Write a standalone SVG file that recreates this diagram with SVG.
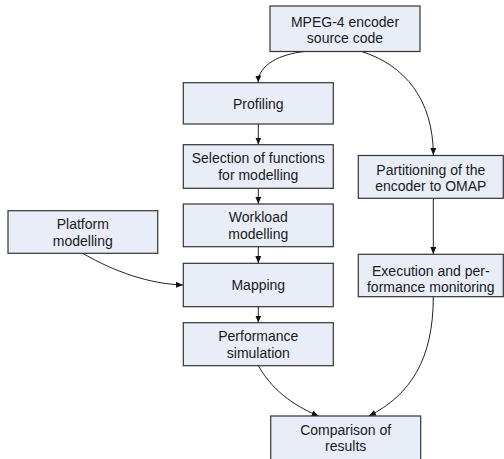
<svg xmlns="http://www.w3.org/2000/svg" width="504" height="459" viewBox="0 0 504 459">
<defs>
<marker id="ah" markerWidth="7" markerHeight="6" refX="7" refY="3" orient="auto" markerUnits="userSpaceOnUse">
<path d="M0,0 L7,3 L0,6 Z" fill="#111"/>
</marker>
<style>
.box{fill:#e8edf7;stroke:#333;stroke-width:1.2}
.t{font-family:"Liberation Sans",Arial,sans-serif;font-size:14px;fill:#1a1a1a;text-anchor:middle}
.c{fill:none;stroke:#222;stroke-width:1;marker-end:url(#ah)}
</style>
</defs>
<rect width="504" height="459" fill="#fff"/>
<g id="connectors">
<path class="c" d="M305,51.5 C280,54 258,65 258.3,82.5"/>
<path class="c" d="M361.5,51.5 C405,65 433.3,100 433.3,155"/>
<path class="c" d="M258.3,124 L258.3,144.5"/>
<path class="c" d="M258.3,188.3 L258.3,203.8"/>
<path class="c" d="M258.3,246.7 L258.3,263.1"/>
<path class="c" d="M258.3,306.7 L258.3,322.5"/>
<path class="c" d="M433.3,198.3 L433.3,254"/>
<path class="c" d="M83,253.5 C115,272 150,284 183,285"/>
<path class="c" d="M258.3,365.7 C275,395 300,408 318.5,416"/>
<path class="c" d="M433.3,296.7 C433.3,360 410,395 369,416"/>
</g>
<g id="mpeg">
<rect class="box" x="270" y="6" width="150" height="45.5"/>
<text class="t" x="345" y="26.5">MPEG-4 encoder</text>
<text class="t" x="345" y="42.5">source code</text>
</g>
<g id="profiling">
<rect class="box" x="183.3" y="82.7" width="150" height="41.3"/>
<text class="t" x="258.3" y="108.5">Profiling</text>
</g>
<g id="selection">
<rect class="box" x="183.3" y="144.7" width="150" height="43.6"/>
<text class="t" x="258.3" y="163.3">Selection of functions</text>
<text class="t" x="258.3" y="180">for modelling</text>
</g>
<g id="workload">
<rect class="box" x="183.3" y="204" width="150" height="42.7"/>
<text class="t" x="258.3" y="222">Workload</text>
<text class="t" x="258.3" y="238.7">modelling</text>
</g>
<g id="mapping">
<rect class="box" x="183.3" y="263.3" width="150" height="43.4"/>
<text class="t" x="258.3" y="290">Mapping</text>
</g>
<g id="performance">
<rect class="box" x="183.3" y="322.7" width="150" height="43"/>
<text class="t" x="258.3" y="341.3">Performance</text>
<text class="t" x="258.3" y="358">simulation</text>
</g>
<g id="platform">
<rect class="box" x="8" y="210.7" width="149.7" height="42.6"/>
<text class="t" x="82.8" y="229">Platform</text>
<text class="t" x="82.8" y="245.7">modelling</text>
</g>
<g id="partitioning">
<rect class="box" x="358.3" y="155.5" width="145" height="42.8"/>
<text class="t" x="430.8" y="175">Partitioning of the</text>
<text class="t" x="430.8" y="191.2">encoder to OMAP</text>
</g>
<g id="execution">
<rect class="box" x="358.3" y="254.3" width="145" height="42.4"/>
<text class="t" x="430.8" y="275.5">Execution and per-</text>
<text class="t" x="430.8" y="291.7">formance monitoring</text>
</g>
<g id="comparison">
<rect class="box" x="270.7" y="416" width="150" height="45"/>
<text class="t" x="345.7" y="434.5">Comparison of</text>
<text class="t" x="345.7" y="451">results</text>
</g>
</svg>
